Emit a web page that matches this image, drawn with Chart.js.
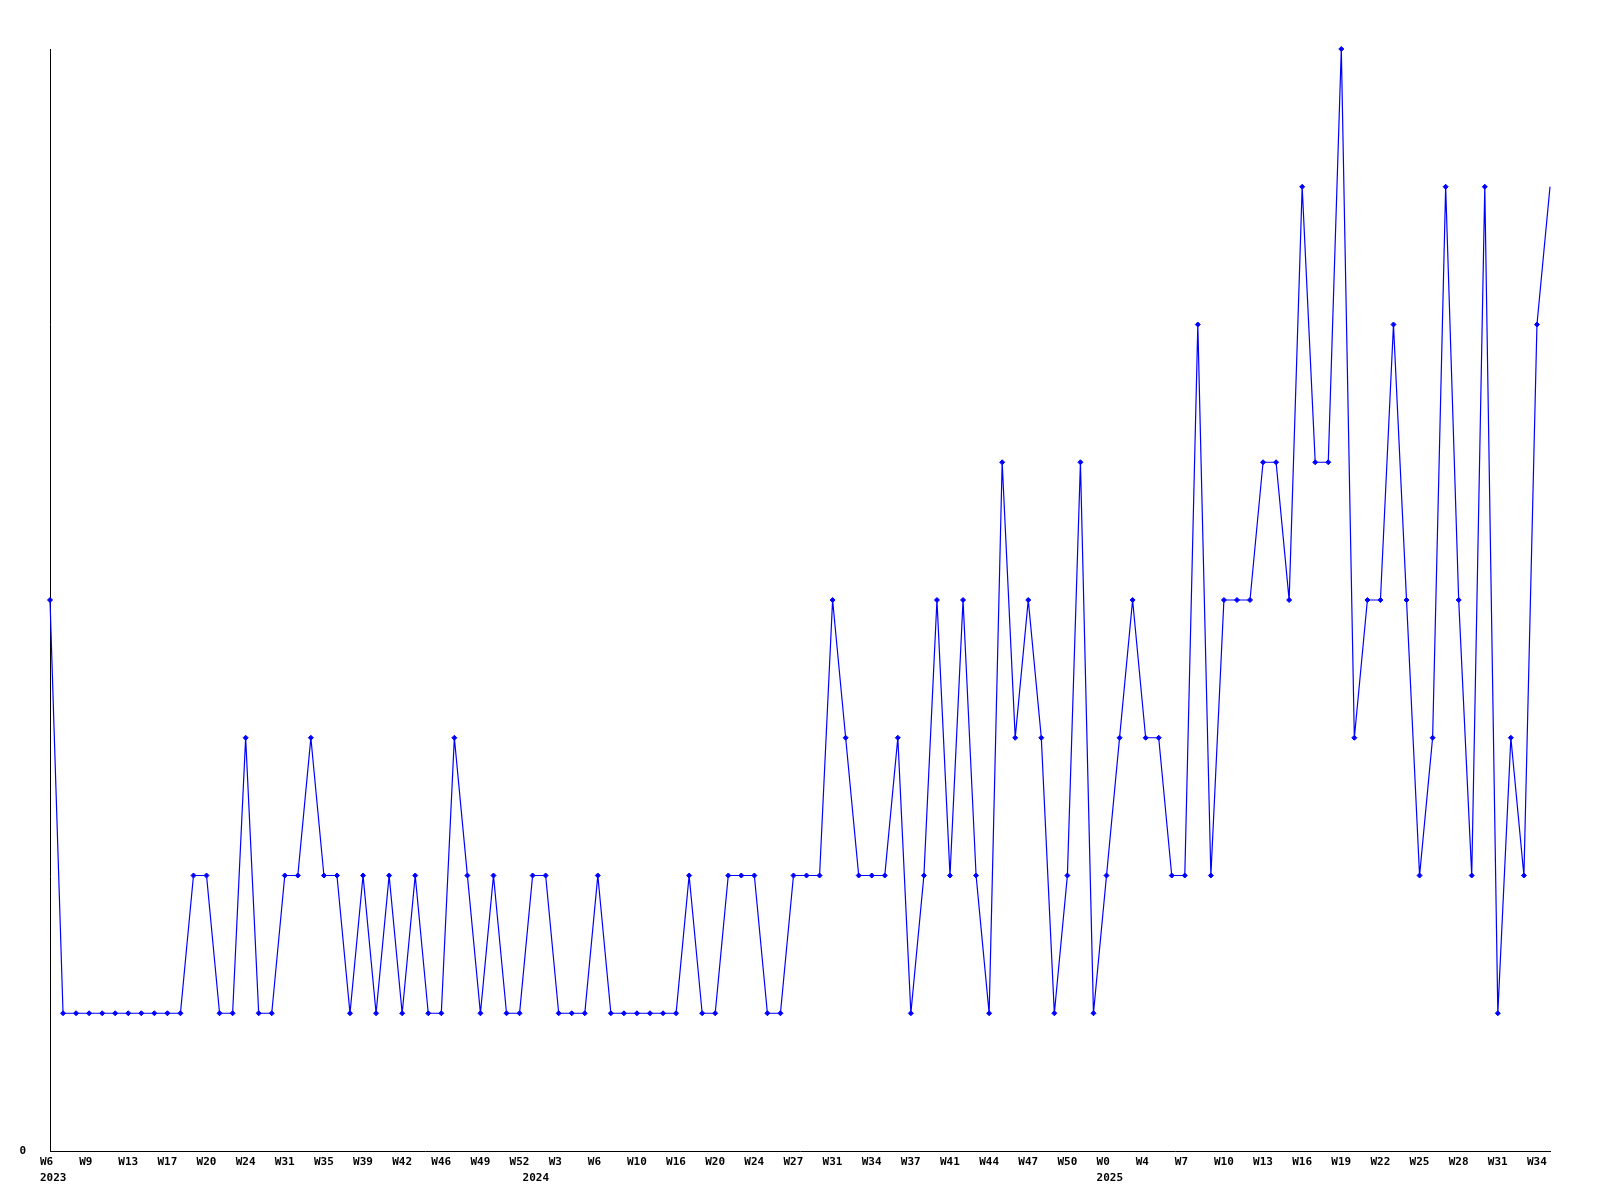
<!DOCTYPE html>
<html>
<head>
<meta charset="utf-8">
<script src="https://cdn.jsdelivr.net/npm/chart.js@4/dist/chart.umd.min.js"></script>
<style>
  html, body { margin: 0; padding: 0; background: #fff; }
</style>
</head>
<body>
<canvas id="myChart" width="1600" height="1200"></canvas>
<script>
// one value per sampled week, left to right
const counts = [
  4,
  1, 1, 1, 1, 1, 1, 1, 1, 1, 1,
  2, 2, 1, 1, 3, 1, 1, 2, 2, 3,
  2, 2, 1, 2, 1, 2, 1, 2, 1, 1,
  3, 2, 1, 2, 1, 1, 2, 2, 1, 1,
  1, 2, 1, 1, 1, 1, 1, 1, 2, 1,
  1, 2, 2, 2, 1, 1, 2, 2, 2, 4,
  3, 2, 2, 2, 3, 1, 2, 4, 2, 4,
  2, 1, 5, 3, 4, 3, 1, 2, 5, 1,
  2, 3, 4, 3, 3, 2, 2, 6, 2, 4,
  4, 4, 5, 5, 4, 7, 5, 5, 8, 3,
  4, 4, 6, 4, 2, 3, 7, 4, 2, 7,
  1, 3, 2, 6, 7
];

// week tick labels, shown on every third point
const weekTicks = [
  'W6', 'W9', 'W13', 'W17', 'W20', 'W24', 'W31', 'W35', 'W39', 'W42',
  'W46', 'W49', 'W52', 'W3', 'W6', 'W10', 'W16', 'W20', 'W24', 'W27',
  'W31', 'W34', 'W37', 'W41', 'W44', 'W47', 'W50', 'W0', 'W4', 'W7',
  'W10', 'W13', 'W16', 'W19', 'W22', 'W25', 'W28', 'W31', 'W34'
];
const weekTickEvery = 3;

// year labels and the point where each year starts
const yearTicks = ['2023', '2024', '2025'];
const yearTickIndex = [0, 37, 81];

const labels = counts.map((v, i) => {
  let week = (i % weekTickEvery === 0) ? (weekTicks[i / weekTickEvery] || '') : '';
  let y = yearTickIndex.indexOf(i);
  let year = y >= 0 ? yearTicks[y] : '';
  return year ? [week, year] : week;
});

const tickFont = {family: '"DejaVu Sans Mono", monospace', size: 11, weight: 'bold', lineHeight: 1.45};

const ctx = document.getElementById('myChart');
const chart = new Chart(ctx, {
  type: 'line',
  data: {
    labels: labels,
    datasets: [{
      data: counts,
      borderColor: '#0000ff',
      backgroundColor: '#0000ff',
      borderWidth: 1.2,
      pointStyle: 'rectRot',
      pointRadius: (c) => c.dataIndex === counts.length - 1 ? 0 : 2.5,
      pointBorderWidth: 1,
      pointBorderColor: '#0000ff',
      pointBackgroundColor: '#0000ff',
      tension: 0,
      clip: false
    }]
  },
  options: {
    responsive: false,
    animation: false,
    events: [],
    layout: {padding: {top: 49, right: 50, left: 0, bottom: 0}},
    plugins: {legend: {display: false}, tooltip: {enabled: false}},
    scales: {
      x: {
        type: 'category',
        offset: false,
        grid: {display: false, drawTicks: false},
        border: {display: true, color: '#000', width: 1},
        ticks: {
          autoSkip: false,
          maxRotation: 0,
          minRotation: 0,
          align: 'start',
          labelOffset: -10,
          padding: 3,
          color: '#000',
          font: tickFont,
          callback: function(value, index) { return labels[index]; }
        },
        afterFit: (scale) => { scale.height = 49; }
      },
      y: {
        min: 0,
        max: 8,
        grid: {display: false, drawTicks: false},
        border: {display: true, color: '#000', width: 1},
        ticks: {
          stepSize: 1,
          padding: 24,
          color: '#000',
          font: tickFont,
          callback: (v) => v === 0 ? '0' : ''
        },
        afterFit: (scale) => { scale.width = 50; }
      }
    }
  }
});
</script>
</body>
</html>
